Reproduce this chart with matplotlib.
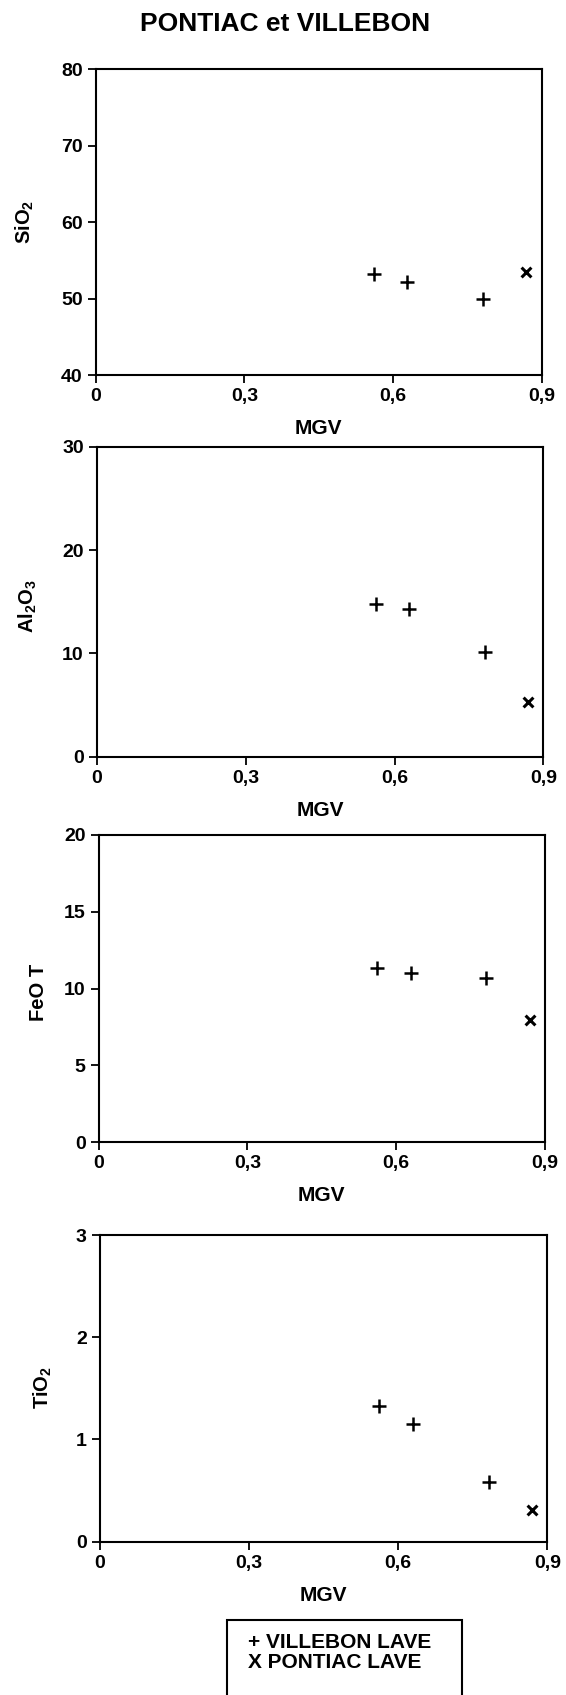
import matplotlib
matplotlib.use("Agg")
import matplotlib.pyplot as plt
from matplotlib.patches import Rectangle

plt.rcParams['font.family'] = ['Liberation Sans', 'DejaVu Sans']
plt.rcParams['font.weight'] = 'bold'
plt.rcParams['mathtext.fontset'] = 'custom'
plt.rcParams['mathtext.rm'] = 'Liberation Sans:bold'
plt.rcParams['mathtext.bf'] = 'Liberation Sans:bold'

# Data
title = "PONTIAC et VILLEBON"
x_label = "MGV"
x_ticks = [0, 0.3, 0.6, 0.9]
x_ticklabels = ["0", "0,3", "0,6", "0,9"]

villebon_mgv = [0.562, 0.629, 0.782]
pontiac_mgv = [0.869]

sio2_villebon = [53.2, 52.2, 50.0]
sio2_pontiac = [53.5]
al2o3_villebon = [14.8, 14.3, 10.1]
al2o3_pontiac = [5.3]
feot_villebon = [11.35, 11.0, 10.7]
feot_pontiac = [7.95]
tio2_villebon = [1.33, 1.15, 0.58]
tio2_pontiac = [0.31]

panels = [
    (r"$\mathbf{SiO_2}$", sio2_villebon, sio2_pontiac, (40, 80), [40, 50, 60, 70, 80]),
    (r"$\mathbf{Al_2O_3}$", al2o3_villebon, al2o3_pontiac, (0, 30), [0, 10, 20, 30]),
    ("FeO T", feot_villebon, feot_pontiac, (0, 20), [0, 5, 10, 15, 20]),
    (r"$\mathbf{TiO_2}$", tio2_villebon, tio2_pontiac, (0, 3), [0, 1, 2, 3]),
]
legend_labels = ["+ VILLEBON LAVE", "X PONTIAC LAVE"]

W, H = 566, 1695
fig = plt.figure(figsize=(W / 100, H / 100), dpi=100)

# pixel boxes (left, right, top, bottom)
boxes = [
    (95.7, 541.7, 69.3, 375.0),
    (97.0, 543.3, 446.7, 756.7),
    (98.7, 545.0, 835.0, 1142.3),
    (100.0, 547.3, 1235.0, 1541.5),
]
ylabel_pos = [(25, 222), (28, 606), (38, 992), (43, 1388)]

for (lab, yv, yp, ylim, yticks), (l, r, t, b), (lx, ly) in zip(panels, boxes, ylabel_pos):
    ax = fig.add_axes([l / W, 1 - b / H, (r - l) / W, (b - t) / H])
    ax.scatter(villebon_mgv, yv, marker='+', s=90, linewidths=1.8, color='black', zorder=3)
    ax.scatter(pontiac_mgv, yp, marker='x', s=50, linewidths=2.2, color='black', zorder=3)
    ax.set_xlim(0, 0.9)
    ax.set_ylim(*ylim)
    ax.set_xticks(x_ticks)
    ax.set_xticklabels(x_ticklabels)
    ax.set_yticks(yticks)
    ax.set_yticklabels([str(v) for v in yticks])
    for s in ax.spines.values():
        s.set_linewidth(1.5)
    ax.tick_params(direction='out', length=6, width=1.3, labelsize=14, pad=3.5,
                   top=False, right=False)
    for lbl in ax.get_xticklabels() + ax.get_yticklabels():
        lbl.set_fontweight('bold')
    ax.set_xlabel(x_label, fontsize=15, fontweight='bold', labelpad=10)
    fig.text(lx / W, 1 - ly / H, lab, rotation=90, ha='center', va='center',
             fontsize=14.5, fontweight='bold')

fig.text(285 / W, 1 - 24 / H, title, ha='center', va='center', fontsize=19, fontweight='bold')

# legend box (extends past the bottom edge, as in the reference)
fig.patches.append(Rectangle((227 / W, 1 - 1720 / H), (462 - 227) / W, (1720 - 1620) / H,
                             transform=fig.transFigure, fill=False, lw=1.5, edgecolor='black'))
fig.text(248 / W, 1 - 1643 / H, legend_labels[0], ha='left', va='center', fontsize=15, fontweight='bold')
fig.text(248 / W, 1 - 1663 / H, legend_labels[1], ha='left', va='center', fontsize=15, fontweight='bold')

fig.savefig("out.png", dpi=100)
